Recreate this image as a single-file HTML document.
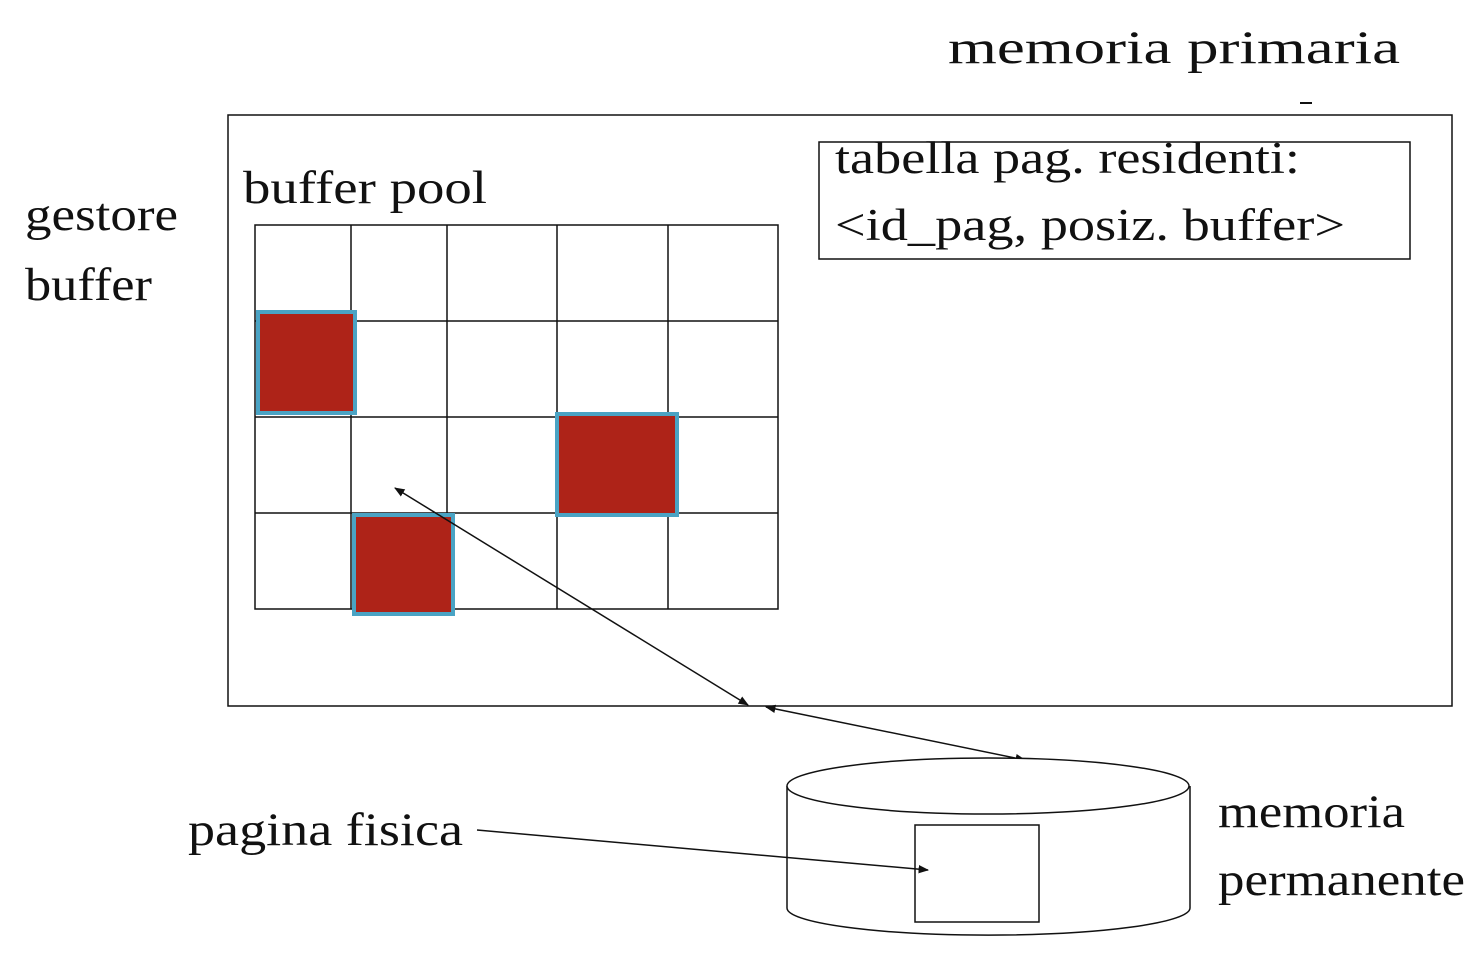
<!DOCTYPE html>
<html><head><meta charset="utf-8"><style>
html,body{margin:0;padding:0;background:#fff;}
svg{display:block;}
text{font-family:"Liberation Serif",serif;fill:#111;}
</style></head><body>
<svg width="1482" height="958" viewBox="0 0 1482 958">
<defs>
<marker id="ah" viewBox="0 0 10 10" refX="9" refY="5" markerWidth="7" markerHeight="7" orient="auto-start-reverse"><path d="M0,1 L10,5 L0,9 z" fill="#111"/></marker>
</defs>
<text x="948" y="63" font-size="47" textLength="452" lengthAdjust="spacingAndGlyphs">memoria primaria</text>
<line x1="1300" y1="103" x2="1312" y2="103" stroke="#111" stroke-width="2"/>
<rect x="228" y="115" width="1224" height="591" fill="none" stroke="#111" stroke-width="1.5"/>
<rect x="819" y="142" width="591" height="117" fill="none" stroke="#111" stroke-width="1.5"/>
<text x="835" y="173" font-size="45" textLength="465" lengthAdjust="spacingAndGlyphs">tabella pag. residenti:</text>
<text x="835" y="240" font-size="45" textLength="510" lengthAdjust="spacingAndGlyphs">&lt;id_pag, posiz. buffer&gt;</text>
<text x="243" y="203" font-size="47" textLength="244" lengthAdjust="spacingAndGlyphs">buffer pool</text>
<text x="25" y="230" font-size="47" textLength="153" lengthAdjust="spacingAndGlyphs">gestore</text>
<text x="25" y="300" font-size="47" textLength="127" lengthAdjust="spacingAndGlyphs">buffer</text>
<g stroke="#111" stroke-width="1.5" fill="none">
<rect x="255" y="225" width="523" height="384"/>
<line x1="351" y1="225" x2="351" y2="609"/><line x1="447" y1="225" x2="447" y2="609"/>
<line x1="557" y1="225" x2="557" y2="609"/><line x1="668" y1="225" x2="668" y2="609"/>
<line x1="255" y1="321" x2="778" y2="321"/><line x1="255" y1="417" x2="778" y2="417"/><line x1="255" y1="513" x2="778" y2="513"/>
</g>
<g fill="#ae2318" stroke="#4aa3c4" stroke-width="4">
<rect x="258" y="312" width="97" height="101"/>
<rect x="557" y="414" width="120" height="101"/>
<rect x="354" y="515" width="99" height="99"/>
</g>
<line x1="395" y1="488" x2="748" y2="705" stroke="#111" stroke-width="1.5" marker-start="url(#ah)" marker-end="url(#ah)"/>
<line x1="766" y1="707" x2="1025" y2="760" stroke="#111" stroke-width="1.5" marker-start="url(#ah)" marker-end="url(#ah)"/>
<g stroke="#111" stroke-width="1.5" fill="#fff">
<path d="M787,786 L787,908 A201,27 0 0 0 1190,908 L1190,786"/>
<ellipse cx="988" cy="786" rx="201" ry="28"/>
</g>
<rect x="915" y="825" width="124" height="97" fill="none" stroke="#111" stroke-width="1.5"/>
<text x="188" y="845" font-size="47" textLength="275" lengthAdjust="spacingAndGlyphs">pagina fisica</text>
<line x1="477" y1="830" x2="928" y2="870" stroke="#111" stroke-width="1.5" marker-end="url(#ah)"/>
<text x="1218" y="827" font-size="47" textLength="187" lengthAdjust="spacingAndGlyphs">memoria</text>
<text x="1218" y="895" font-size="47" textLength="247" lengthAdjust="spacingAndGlyphs">permanente</text>
</svg>
</body></html>
